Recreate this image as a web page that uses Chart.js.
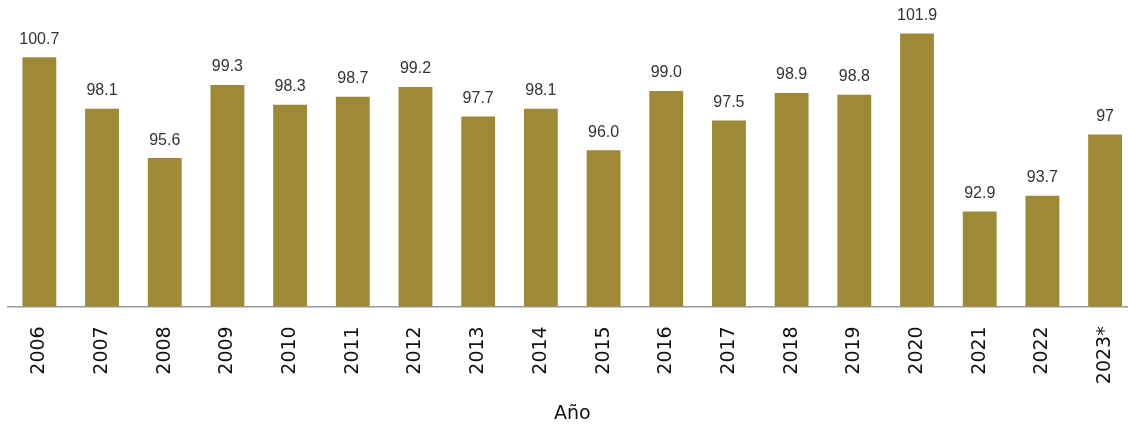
<!DOCTYPE html>
<html>
<head>
<meta charset="utf-8">
<script src="https://cdn.jsdelivr.net/npm/chart.js@4.4.0/dist/chart.umd.min.js"></script>
<style>
  html, body { margin: 0; padding: 0; background: #fff; overflow: hidden; }
  #wrap { width: 1148px; height: 426px; }
</style>
</head>
<body>
<div id="wrap"><canvas id="chart"></canvas></div>
<script>
const years = ['2006','2007','2008','2009','2010','2011','2012','2013','2014','2015','2016','2017','2018','2019','2020','2021','2022','2023*'];
const values = [100.7, 98.1, 95.6, 99.3, 98.3, 98.7, 99.2, 97.7, 98.1, 96.0, 99.0, 97.5, 98.9, 98.8, 101.9, 92.9, 93.7, 96.8];
const valueLabels = ['100.7','98.1','95.6','99.3','98.3','98.7','99.2','97.7','98.1','96.0','99.0','97.5','98.9','98.8','101.9','92.9','93.7','97'];

// draw the value above each bar
const barLabels = {
    id: 'barLabels',
    afterDatasetsDraw(chart) {
        const c = chart.ctx;
        const meta = chart.getDatasetMeta(0);
        c.save();
        c.font = '16px "Liberation Sans", Arial, sans-serif';
        c.fillStyle = '#333';
        c.textAlign = 'center';
        c.textBaseline = 'bottom';
        meta.data.forEach((bar, i) => {
            c.fillText(valueLabels[i], bar.x, bar.y - 10);
        });
        c.restore();
    }
};

const ctx = document.getElementById('chart').getContext('2d');
const chart = new Chart(ctx, {
    type: 'bar',
    data: {
        labels: years,
        datasets: [{
            data: values,
            backgroundColor: '#9e8936',
            categoryPercentage: 1,
            barPercentage: 0.54
        }]
    },
    options: {
        responsive: true,
        maintainAspectRatio: false,
        animation: false,
        layout: { padding: { left: 8, right: 4, top: 0, bottom: 1 } },
        plugins: { legend: { display: false }, tooltip: { enabled: false } },
        scales: {
            y: { display: false, min: 88.1, max: 103.6 },
            x: {
                grid: { display: false, drawTicks: false },
                border: { display: true, color: '#999', width: 1.5 },
                ticks: {
                    color: '#111',
                    font: { family: 'DejaVu Sans', size: 19 },
                    minRotation: 90,
                    maxRotation: 90,
                    padding: 20
                },
                title: {
                    display: true,
                    text: 'Año',
                    color: '#111',
                    font: { family: 'DejaVu Sans', size: 19 },
                    padding: { top: -2, bottom: 0 }
                }
            }
        }
    },
    plugins: [barLabels]
});
</script>
</body>
</html>
